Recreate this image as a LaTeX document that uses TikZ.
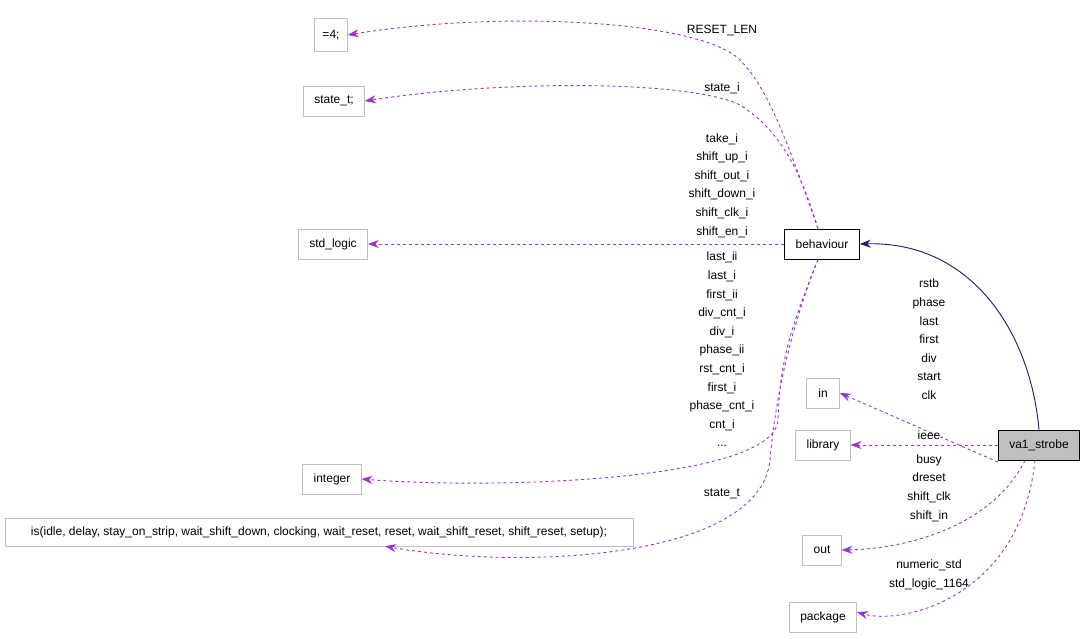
\documentclass[tikz,border=0pt]{standalone}
\usepackage{fontspec}
\setmainfont{Liberation Sans}
\usetikzlibrary{arrows.meta}
\definecolor{edgepurple}{HTML}{9A32CD}
\definecolor{edgenavy}{HTML}{191970}
\definecolor{boxgray}{HTML}{BFBFBF}
\tikzstyle{cls} = [rectangle, 
draw=boxgray, 
minimum height=30pt, 
inner xsep=11pt, 
text centered, 
font=\fontsize{12}{18.6}\selectfont]
\tikzstyle{main} = [cls, draw=black, line width=0.9pt]
\tikzstyle{lbl} = [align=center, inner sep=0pt, 
font=\fontsize{12}{18.6}\selectfont]
\tikzstyle{uses} = [dashed, edgepurple, line width=0.9pt, -{Stealth[length=11pt,width=8pt]}]
\tikzstyle{inherit} = [edgenavy, line width=0.9pt, -{Stealth[length=11pt,width=8pt]}]

\begin{document}
\begin{tikzpicture}[x=1pt, y=-1pt]
    \useasboundingbox (0,0) rectangle (1088,639);
    \node (eqfour) [cls, minimum height=33pt, inner xsep=8pt] at (331,35) {=4;};
    \node (statet) [cls] at (334,101) {state\_t;};
    \node (stdlogic) [cls] at (333,244) {std\_logic};
    \node (integer) [cls] at (332,479) {integer};
    \node (enum) [cls, minimum height=28pt, minimum width=628pt] at (319,532) {is(idle, delay, stay\_on\_strip, wait\_shift\_down, clocking, wait\_reset, reset, wait\_shift\_reset, shift\_reset, setup);};
    \node (behaviour) [main] at (822,244) {behaviour};
    \node (in) [cls, inner xsep=12pt] at (823,393) {in};
    \node (library) [cls] at (823,445) {library};
    \node (out) [cls] at (822,550) {out};
    \node (package) [cls] at (823,617) {package};
    \node (strobe) [main, fill=boxgray] at (1039,445) {va1\_strobe};

    % inheritance
    \draw [inherit] (strobe.north) .. controls (1030,330) and (970,241) .. (behaviour.east);

    % behaviour members
    \draw [uses] ([xshift=-4pt]behaviour.north) .. controls (790,150) and (770,90) .. (740,60)
        .. controls (700,20) and (500,10) .. (eqfour.east);
    \draw [uses] ([xshift=-4pt]behaviour.north) .. controls (800,170) and (780,130) .. (740,105)
        .. controls (690,80) and (500,80) .. (statet.east);
    \draw [uses] (behaviour.west) -- (stdlogic.east);
    \draw [uses] ([xshift=-4pt]behaviour.south) .. controls (790,330) and (780,360) .. (778,420)
        .. controls (775,480) and (500,490) .. (integer.east);
    \draw [uses] ([xshift=-4pt]behaviour.south) .. controls (790,330) and (775,400) .. (770,460)
        .. controls (760,560) and (520,570) .. ([xshift=66pt]enum.south);

    \node [lbl] at (722,31) {RESET\_LEN};
    \node [lbl] at (722,88) {state\_i};
    \node [lbl] at (722,185.5) {take\_i\\shift\_up\_i\\shift\_out\_i\\shift\_down\_i\\shift\_clk\_i\\shift\_en\_i};
    \node [lbl] at (722,349.5) {last\_ii\\last\_i\\first\_ii\\div\_cnt\_i\\div\_i\\phase\_ii\\rst\_cnt\_i\\first\_i\\phase\_cnt\_i\\cnt\_i\\...};
    \node [lbl] at (722,494) {state\_t};

    % va1_strobe members
    \draw [uses] ([yshift=-17pt]strobe.west) -- (in.east);
    \draw [uses] (strobe.west) -- (library.east);
    \draw [uses] ([xshift=-14pt]strobe.south) .. controls (990,530) and (900,549) .. (out.east);
    \draw [uses] ([xshift=-4pt]strobe.south) .. controls (1020,600) and (900,625) .. ([yshift=5pt]package.east);

    \node [lbl] at (929,339.5) {rstb\\phase\\last\\first\\div\\start\\clk};
    \node [lbl] at (929,435) {ieee};
    \node [lbl] at (929,488) {busy\\dreset\\shift\_clk\\shift\_in};
    \node [lbl] at (929,575) {numeric\_std\\std\_logic\_1164};
\end{tikzpicture}
\end{document}
